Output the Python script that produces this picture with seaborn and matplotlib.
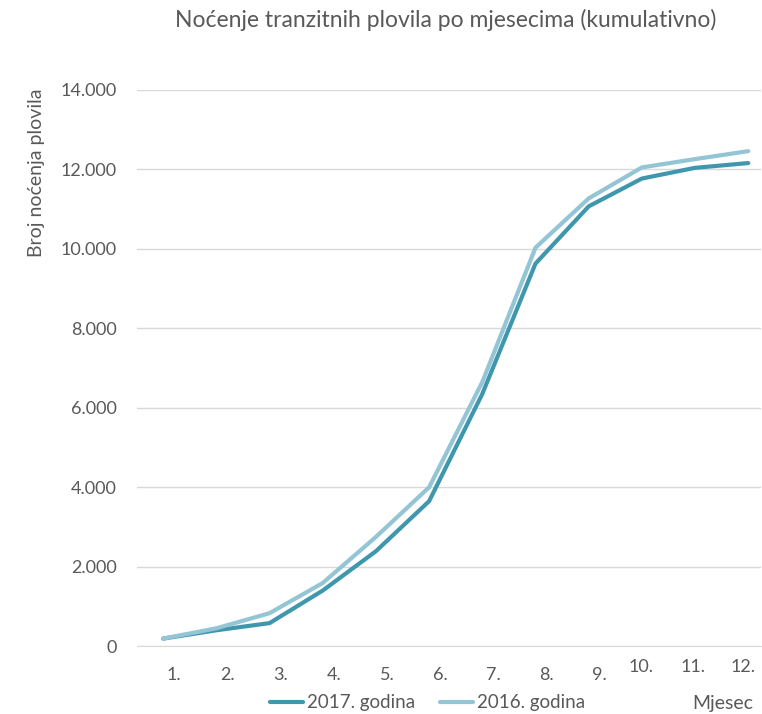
import pandas as pd
import matplotlib.pyplot as plt
import matplotlib.transforms as mtransforms
import seaborn as sns

# Podaci (kumulativno noćenje po mjesecima)
mjeseci = [1, 2, 3, 4, 5, 6, 7, 8, 9, 10, 11, 12]
oznake = ["1.", "2.", "3.", "4.", "5.", "6.", "7.", "8.", "9.", "10.", "11.", "12."]
god_2017 = [190, 400, 580, 1400, 2390, 3650, 6350, 9630, 11070, 11770, 12040, 12160]
god_2016 = [190, 450, 830, 1590, 2750, 4000, 6650, 10030, 11270, 12050, 12260, 12460]

df = pd.DataFrame({
    "mjesec": mjeseci * 2,
    "nocenja": god_2017 + god_2016,
    "godina": ["2017. godina"] * 12 + ["2016. godina"] * 12,
})

sns.set_style("white")
plt.rcParams["font.family"] = ["Lato", "DejaVu Sans"]
siva = "#595959"
boje = {"2017. godina": "#3f97ae", "2016. godina": "#93c5d5"}

fig = plt.figure(figsize=(7.62, 7.14), dpi=100)
ax = fig.add_axes([0.18, 0.095, 0.819, 0.779])

sns.lineplot(data=df, x="mjesec", y="nocenja", hue="godina", palette=boje,
             hue_order=["2017. godina", "2016. godina"], linewidth=3,
             ax=ax, legend=False, solid_capstyle="round")

ax.set_ylim(0, 14000)
ax.set_xlim(0.511, 12.244)
ax.set_yticks(range(0, 14001, 2000))
ax.set_yticklabels([f"{v:,}".replace(",", ".") for v in range(0, 14001, 2000)],
                   color=siva, fontsize=13)
ax.yaxis.grid(True, color="#d9d9d9", linewidth=1)
ax.set_axisbelow(True)
for s in ["top", "right", "left"]:
    ax.spines[s].set_visible(False)
ax.spines["bottom"].set_color("#d9d9d9")
ax.tick_params(axis="y", length=0, pad=14.5)
ax.tick_params(axis="x", length=0, pad=15)

ax.set_xticks(mjeseci)
ax.set_xticklabels(oznake, color=siva, fontsize=13)
pomaci = [(11, 0)] * 9 + [(-1, 8), (-2, 8), (-5, 8)]
for lbl, (dx, dy) in zip(ax.get_xticklabels(), pomaci):
    lbl.set_transform(lbl.get_transform() +
                      mtransforms.ScaledTranslation(dx / 100, dy / 100, fig.dpi_scale_trans))

ax.set_xlabel("")
ax.set_ylabel("")

fig.text(0.585, 0.972, "Noćenje tranzitnih plovila po mjesecima (kumulativno)",
         ha="center", va="center", fontsize=16.5, color=siva)
fig.text(0.048, 0.876, "Broj noćenja plovila", rotation=90, ha="center", va="top",
         fontsize=14, color=siva)
fig.text(0.908, 0.003, "Mjesec", ha="left", va="bottom", fontsize=14, color=siva)

handles = [plt.Line2D([], [], color=boje[k], linewidth=3, solid_capstyle="round")
           for k in ["2017. godina", "2016. godina"]]
fig.legend(handles, ["2017. godina", "2016. godina"], loc="lower center",
           bbox_to_anchor=(0.561, -0.02), ncol=2, frameon=False, fontsize=13.5,
           handlelength=1.8, handletextpad=0.2, columnspacing=1.3,
           labelcolor=siva)

fig.savefig("out.png", dpi=100)
